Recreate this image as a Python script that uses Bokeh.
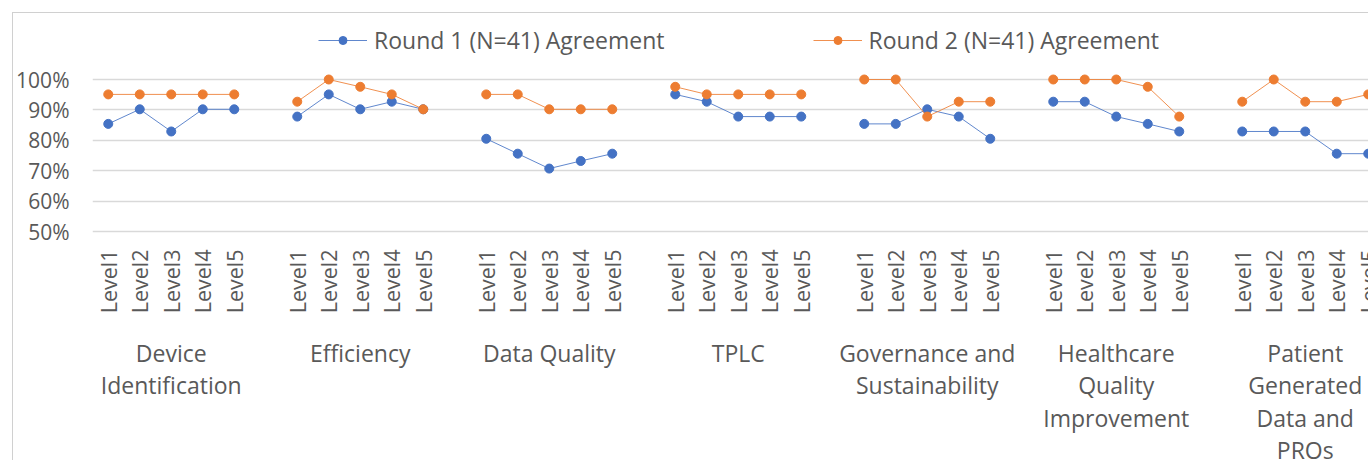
import math
from bokeh.plotting import figure
from bokeh.models import (Range1d, FixedTicker, NumeralTickFormatter, Legend, LegendItem,
                          ColumnDataSource)
from bokeh.embed import file_html
from bokeh.resources import INLINE

# ---------------- data ----------------
groups = ["Device Identification", "Efficiency", "Data Quality", "TPLC",
          "Governance and Sustainability", "Healthcare Quality Improvement",
          "Patient Generated Data and PROs"]
group_labels = ["Device\nIdentification", "Efficiency", "Data Quality", "TPLC",
                "Governance and\nSustainability", "Healthcare\nQuality\nImprovement",
                "Patient\nGenerated\nData and\nPROs"]
levels = ["Level1", "Level2", "Level3", "Level4", "Level5"]

round1 = [0.854, 0.902, 0.829, 0.902, 0.902,
          0.878, 0.951, 0.902, 0.927, 0.902,
          0.805, 0.756, 0.707, 0.732, 0.756,
          0.951, 0.927, 0.878, 0.878, 0.878,
          0.854, 0.854, 0.902, 0.878, 0.805,
          0.927, 0.927, 0.878, 0.854, 0.829,
          0.829, 0.829, 0.829, 0.756, 0.756]
round2 = [0.951, 0.951, 0.951, 0.951, 0.951,
          0.927, 1.000, 0.976, 0.951, 0.902,
          0.951, 0.951, 0.902, 0.902, 0.902,
          0.976, 0.951, 0.951, 0.951, 0.951,
          1.000, 1.000, 0.878, 0.927, 0.927,
          1.000, 1.000, 1.000, 0.976, 0.878,
          0.927, 1.000, 0.927, 0.927, 0.951]
series_names = ["Round 1 (N=41) Agreement", "Round 2 (N=41) Agreement"]
y_ticks = [0.5, 0.6, 0.7, 0.8, 0.9, 1.0]

# ---------------- layout constants (page pixels) ----------------
MARGIN = 12                      # chart-area border position
W, H = 1356, 448                 # figure size inside the border
ORIGIN = MARGIN + 1              # content origin after 1px border
FRAME_LEFT, FRAME_TOP = 92, 16
FRAME_RIGHT, FRAME_BOTTOM = ORIGIN + W, ORIGIN + H
Y100, Y50 = 79, 231              # page y of the 100% and 50% grid lines
SLOT_PX = 31.5

FONT = "Open Sans"
TXT = "#595959"
BLUE = "#4472C4"
ORANGE = "#ED7D31"
GRID = "#d9d9d9"

px_per_unit = (Y50 - Y100) / 0.5


def page_y(py):
    """data y value of a page-pixel row"""
    return 0.5 - (py - Y50) / px_per_unit


slot = len(levels) + 1
xs, level_text = [], []
for gi, g in enumerate(groups):
    for li, lv in enumerate(levels):
        xs.append(gi * slot + li)
        level_text.append(lv)
group_x = [gi * slot + (len(levels) - 1) / 2 for gi in range(len(groups))]

x_start = -0.5
x_end = x_start + (FRAME_RIGHT - FRAME_LEFT) / SLOT_PX

p = figure(width=W, height=H, output_backend="svg", toolbar_location=None,
           x_range=Range1d(x_start, x_end),
           y_range=Range1d(page_y(FRAME_BOTTOM), page_y(FRAME_TOP)),
           x_axis_location=None,
           min_border_left=FRAME_LEFT - ORIGIN, min_border_right=0,
           min_border_top=FRAME_TOP - ORIGIN, min_border_bottom=0,
           margin=(MARGIN, 0, 0, MARGIN))
p.styles = {"border-left": "1px solid #d0d0d0", "border-top": "1px solid #d0d0d0"}
p.outline_line_color = None

# y axis
p.yaxis.ticker = FixedTicker(ticks=y_ticks)
p.yaxis.formatter = NumeralTickFormatter(format="0%")
p.yaxis.axis_line_color = None
p.yaxis.major_tick_line_color = None
p.yaxis.minor_tick_line_color = None
p.yaxis.major_tick_out = 0
p.yaxis.major_tick_in = 0
p.yaxis.minor_tick_out = 0
p.yaxis.minor_tick_in = 0
p.yaxis.major_label_standoff = 23
p.yaxis.major_label_text_font = FONT
p.yaxis.major_label_text_font_size = "21px"
p.yaxis.major_label_text_color = TXT

p.ygrid.ticker = FixedTicker(ticks=y_ticks)
p.ygrid.grid_line_color = GRID
p.ygrid.grid_line_width = 1.5
p.xgrid.grid_line_color = None

# category labels (levels, rotated) and group labels below them
lab_src = ColumnDataSource(dict(x=xs, t=level_text))
p.text("x", page_y(249), text="t", source=lab_src, angle=math.pi / 2,
       text_align="right", text_baseline="middle", text_font={"value": FONT},
       text_font_size="21.5px", text_color=TXT)
grp_src = ColumnDataSource(dict(x=group_x, t=group_labels))
p.text("x", page_y(336), text="t", source=grp_src, text_align="center",
       text_baseline="top", text_font={"value": FONT}, text_font_size="23px",
       text_color=TXT, text_line_height=1.02)

# series
items = []
for vals, color, name in [(round1, BLUE, series_names[0]), (round2, ORANGE, series_names[1])]:
    rends = []
    n = len(levels)
    for gi in range(len(groups)):
        sub = ColumnDataSource(dict(x=xs[gi * n:(gi + 1) * n], y=vals[gi * n:(gi + 1) * n]))
        rends.append(p.line("x", "y", source=sub, line_color=color, line_width=1, line_alpha=0.85))
    sc = p.scatter(xs, vals, marker="circle", size=9, fill_color=color, line_color=color)
    items.append(LegendItem(label=name, renderers=[rends[0], sc]))

frame_h = FRAME_BOTTOM - FRAME_TOP
legend = Legend(items=items, orientation="horizontal", location=(226, frame_h - 40),
                label_text_font=FONT, label_text_font_size="23px", label_text_color=TXT,
                glyph_width=49, glyph_height=20, label_standoff=7, spacing=148,
                padding=0, margin=0, border_line_color=None, background_fill_alpha=0)
p.add_layout(legend)

open("out.html", "w").write(file_html(p, INLINE))
